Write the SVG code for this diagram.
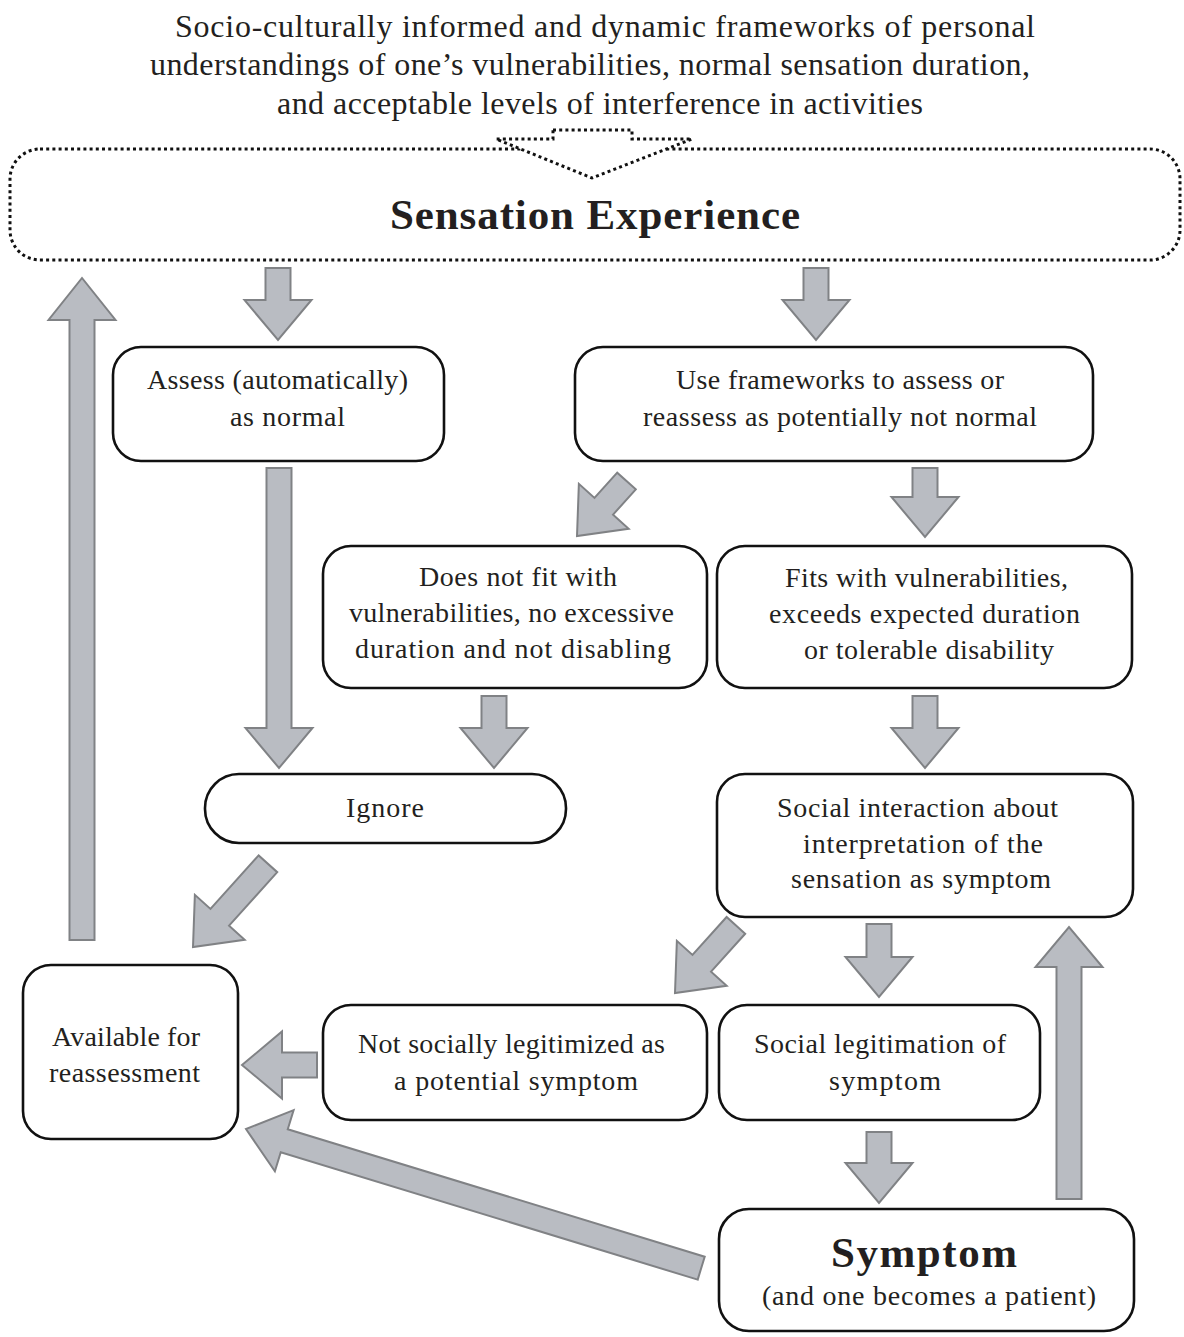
<svg xmlns="http://www.w3.org/2000/svg" width="1184" height="1337" viewBox="0 0 1184 1337">
<style>
.box{fill:#fff;stroke:#111;stroke-width:2.6}
.t{font-family:"Liberation Serif","Times New Roman",serif;font-size:28px;fill:#231f20;text-anchor:middle}
.big{font-size:43px;font-weight:bold}
.title{font-family:"Liberation Serif","Times New Roman",serif;font-size:32px;fill:#231f20;text-anchor:middle}
.arr{fill:#b9bcc2;stroke:#808285;stroke-width:2;stroke-linejoin:miter}
.dot{fill:#fff;stroke:#111;stroke-width:3;stroke-dasharray:3 3.2}
</style>
<rect width="1184" height="1337" fill="#fff"/>
<g id="title">
<text class="title" x="605" y="37" textLength="860" lengthAdjust="spacing">Socio-culturally informed and dynamic frameworks of personal</text>
<text class="title" x="590" y="75" textLength="880" lengthAdjust="spacing">understandings of one’s vulnerabilities, normal sensation duration,</text>
<text class="title" x="600" y="114" textLength="646" lengthAdjust="spacing">and acceptable levels of interference in activities</text>
</g>
<g id="sensation">
<rect class="dot" x="10" y="149" width="1170" height="111" rx="30"/>
<polygon class="dot" stroke-width="2.6" points="553,130 632,130 632,139 692,139 592,178 496,139 553,139"/>
<text class="t big" x="595" y="229" textLength="410" lengthAdjust="spacing">Sensation Experience</text>
</g>
<g id="connectors">
<polygon class="arr" transform="translate(278,340) rotate(90)" points="-72,-12.5 -40,-12.5 -40,-33.5 0,0 -40,33.5 -40,12.5 -72,12.5"/>
<polygon class="arr" transform="translate(816,340) rotate(90)" points="-72,-12.5 -40,-12.5 -40,-33.5 0,0 -40,33.5 -40,12.5 -72,12.5"/>
<polygon class="arr" transform="translate(279,768) rotate(90)" points="-300,-12.5 -40,-12.5 -40,-33.5 0,0 -40,33.5 -40,12.5 -300,12.5"/>
<polygon class="arr" transform="translate(577,536) rotate(132)" points="-74,-12.5 -40,-12.5 -40,-33.5 0,0 -40,33.5 -40,12.5 -74,12.5"/>
<polygon class="arr" transform="translate(925,537) rotate(90)" points="-69,-12.5 -40,-12.5 -40,-33.5 0,0 -40,33.5 -40,12.5 -69,12.5"/>
<polygon class="arr" transform="translate(494,768) rotate(90)" points="-72,-12.5 -40,-12.5 -40,-33.5 0,0 -40,33.5 -40,12.5 -72,12.5"/>
<polygon class="arr" transform="translate(925,768) rotate(90)" points="-72,-12.5 -40,-12.5 -40,-33.5 0,0 -40,33.5 -40,12.5 -72,12.5"/>
<polygon class="arr" transform="translate(193,947) rotate(132)" points="-112,-12.5 -40,-12.5 -40,-33.5 0,0 -40,33.5 -40,12.5 -112,12.5"/>
<polygon class="arr" transform="translate(675,993) rotate(132)" points="-91,-12.5 -40,-12.5 -40,-33.5 0,0 -40,33.5 -40,12.5 -91,12.5"/>
<polygon class="arr" transform="translate(879,997) rotate(90)" points="-73,-12.5 -40,-12.5 -40,-33.5 0,0 -40,33.5 -40,12.5 -73,12.5"/>
<polygon class="arr" transform="translate(242,1065) rotate(180)" points="-75,-12.5 -40,-12.5 -40,-33.5 0,0 -40,33.5 -40,12.5 -75,12.5"/>
<polygon class="arr" transform="translate(879,1203) rotate(90)" points="-71,-12.5 -40,-12.5 -40,-33.5 0,0 -40,33.5 -40,12.5 -71,12.5"/>
<polygon class="arr" transform="translate(246,1129) rotate(197)" points="-476,-12 -40,-12 -40,-32 0,0 -40,32 -40,12 -476,12"/>
<polygon class="arr" transform="translate(1069,927) rotate(-90)" points="-272,-12.5 -40,-12.5 -40,-33.5 0,0 -40,33.5 -40,12.5 -272,12.5"/>
<polygon class="arr" transform="translate(82,278) rotate(-90)" points="-662,-12.5 -42,-12.5 -42,-33.5 0,0 -42,33.5 -42,12.5 -662,12.5"/>
</g>
<g id="assess">
<rect class="box" x="113" y="347" width="331" height="114" rx="28"/>
<text class="t" x="277.5" y="389" textLength="261" lengthAdjust="spacing">Assess (automatically)</text>
<text class="t" x="287.5" y="426" textLength="115" lengthAdjust="spacing">as normal</text>
</g>
<g id="use-frameworks">
<rect class="box" x="575" y="347" width="518" height="114" rx="28"/>
<text class="t" x="840" y="389" textLength="328" lengthAdjust="spacing">Use frameworks to assess or</text>
<text class="t" x="840" y="426" textLength="394" lengthAdjust="spacing">reassess as potentially not normal</text>
</g>
<g id="does-not-fit">
<rect class="box" x="323" y="546" width="384" height="142" rx="28"/>
<text class="t" x="518" y="586" textLength="198" lengthAdjust="spacing">Does not fit with</text>
<text class="t" x="511.5" y="622" textLength="325" lengthAdjust="spacing">vulnerabilities, no excessive</text>
<text class="t" x="513" y="658" textLength="316" lengthAdjust="spacing">duration and not disabling</text>
</g>
<g id="fits">
<rect class="box" x="717" y="546" width="415" height="142" rx="28"/>
<text class="t" x="926.5" y="587" textLength="283" lengthAdjust="spacing">Fits with vulnerabilities,</text>
<text class="t" x="924.5" y="623" textLength="311" lengthAdjust="spacing">exceeds expected duration</text>
<text class="t" x="929" y="659" textLength="250" lengthAdjust="spacing">or tolerable disability</text>
</g>
<g id="ignore">
<rect class="box" x="205" y="774" width="361" height="69" rx="34"/>
<text class="t" x="385" y="817" textLength="78" lengthAdjust="spacing">Ignore</text>
</g>
<g id="social-interaction">
<rect class="box" x="717" y="774" width="416" height="143" rx="28"/>
<text class="t" x="917.5" y="817" textLength="281" lengthAdjust="spacing">Social interaction about</text>
<text class="t" x="923" y="853" textLength="240" lengthAdjust="spacing">interpretation of the</text>
<text class="t" x="921" y="888" textLength="260" lengthAdjust="spacing">sensation as symptom</text>
</g>
<g id="available">
<rect class="box" x="23" y="965" width="215" height="174" rx="28"/>
<text class="t" x="126" y="1046" textLength="148" lengthAdjust="spacing">Available for</text>
<text class="t" x="124.5" y="1082" textLength="151" lengthAdjust="spacing">reassessment</text>
</g>
<g id="not-legitimized">
<rect class="box" x="323" y="1005" width="384" height="115" rx="28"/>
<text class="t" x="511.5" y="1053" textLength="307" lengthAdjust="spacing">Not socially legitimized as</text>
<text class="t" x="516" y="1090" textLength="244" lengthAdjust="spacing">a potential symptom</text>
</g>
<g id="legitimation">
<rect class="box" x="719" y="1005" width="321" height="115" rx="28"/>
<text class="t" x="880" y="1053" textLength="252" lengthAdjust="spacing">Social legitimation of</text>
<text class="t" x="885" y="1090" textLength="112" lengthAdjust="spacing">symptom</text>
</g>
<g id="symptom">
<rect class="box" x="719" y="1209" width="415" height="122" rx="30"/>
<text class="t big" x="924" y="1267" textLength="186" lengthAdjust="spacing">Symptom</text>
<text class="t" x="929" y="1305" textLength="334" lengthAdjust="spacing">(and one becomes a patient)</text>
</g>
</svg>
